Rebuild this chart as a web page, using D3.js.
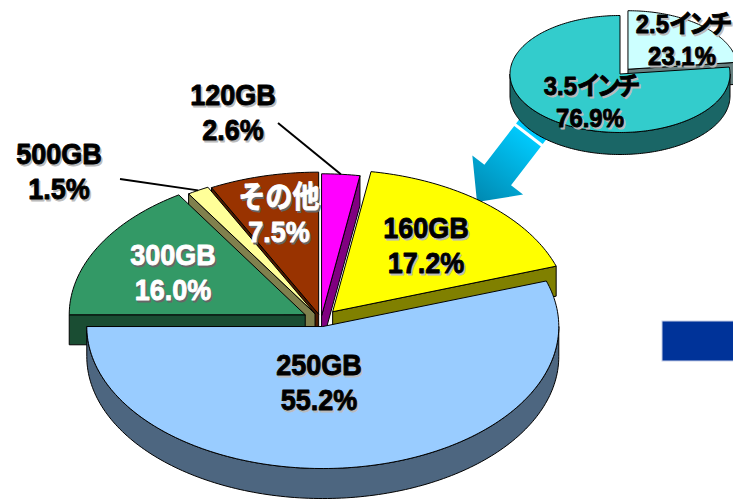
<!DOCTYPE html>
<html>
<head>
<meta charset="utf-8">
<script src="https://cdn.jsdelivr.net/npm/d3@7"></script>
<style>
  body { margin: 0; background: #fff; }
  svg { display: block; }
</style>
</head>
<body>
<div id="chart"></div>
<script>

// data
var capacities = ["120GB", "160GB", "250GB", "300GB", "500GB", "その他"];
var capacityShares = [2.6, 17.2, 55.2, 16.0, 1.5, 7.5];
var sizes = ["2.5インチ", "3.5インチ"];
var sizeShares = [23.1, 76.9];

// look
var capColors = ["#ff00ff", "#ffff00", "#99ccff", "#339966", "#ffff99", "#993300"];
var capTextColors = ["#000", "#000", "#000", "#fff", "#000", "#fff"];
var capExplode = [7, 18, 11, 18, 12, 10];
var capLabelAt = [[233, 105], [426, 238], [319, 375], [173, 265], [59, 164], [279, 207]];
var capLeaderFrom = [[278, 123], null, null, null, [120, 179], null];

var sizeColors = ["#ccffff", "#33cccc"];
var sizeExplode = [12, 0];
var sizeLabelAt = [[682, 33], [590, 95]];

var width = 733, height = 502;
var fontStack = "'Liberation Sans', Arial, 'Noto Sans CJK JP', sans-serif";

var svg = d3.select("#chart").append("svg")
  .attr("width", width)
  .attr("height", height);

function halfTone(c) {
  var r = d3.rgb(c);
  return d3.rgb(r.r / 2, r.g / 2, r.b / 2).toString();
}

var line = d3.line();

// draws an exploded 3d pie, back slices first
function pie3d(g, opts) {
  var arcs = d3.pie().sort(null).value(function(d) { return d; })(opts.values);
  var k = opts.ry / opts.rx;
  arcs.forEach(function(a, i) {
    a.mid = (a.startAngle + a.endAngle) / 2;
    a.ox = opts.cx + opts.explode[i] * Math.sin(a.mid);
    a.oy = opts.cy - opts.explode[i] * Math.cos(a.mid) * k;
  });

  function pt(a, ang, h) {
    return [a.ox + opts.rx * Math.sin(ang), a.oy - opts.ry * Math.cos(ang) + h];
  }
  function rim(a, a0, a1, h) {
    var n = Math.max(2, Math.ceil((a1 - a0) / 0.02));
    return d3.range(n + 1).map(function(j) { return pt(a, a0 + (a1 - a0) * j / n, h); });
  }

  var order = arcs.slice().sort(function(p, q) { return (-Math.cos(p.mid)) - (-Math.cos(q.mid)); });

  order.forEach(function(a) {
    var col = opts.colors[a.index];
    var side = halfTone(col);
    var sg = g.append("g");
    var d = opts.depth;

    // radial faces
    [[a.startAngle, Math.sin(a.startAngle) < -1e-6], [a.endAngle, Math.sin(a.endAngle) > 1e-6]]
      .forEach(function(f) {
        if (!f[1]) return;
        var p0 = [a.ox, a.oy], p1 = pt(a, f[0], 0);
        sg.append("path")
          .attr("d", line([p0, p1, [p1[0], p1[1] + d], [p0[0], p0[1] + d]]) + "Z")
          .attr("fill", side)
          .attr("stroke", "#000")
          .attr("stroke-width", 1)
          .attr("stroke-linejoin", "round");
      });

    // outer wall, front half only
    var b0 = Math.max(a.startAngle, Math.PI / 2);
    var b1 = Math.min(a.endAngle, 3 * Math.PI / 2);
    if (b1 > b0) {
      var wall = rim(a, b0, b1, 0).concat(rim(a, b0, b1, d).reverse());
      sg.append("path")
        .attr("d", line(wall) + "Z")
        .attr("fill", side)
        .attr("stroke", "#000")
        .attr("stroke-width", 1);
    }

    // top
    sg.append("path")
      .attr("d", line([[a.ox, a.oy]].concat(rim(a, a.startAngle, a.endAngle, 0))) + "Z")
      .attr("fill", col)
      .attr("stroke", "#000")
      .attr("stroke-width", 1)
      .attr("stroke-linejoin", "round");
  });

  arcs.pt = pt;
  return arcs;
}

// katakana in the original is set narrower than full width
function fillText(sel, t) {
  var parts = t.match(/[\u30a0-\u30ff]+|[^\u30a0-\u30ff]+/g);
  parts.forEach(function(p) {
    var ts = sel.append("tspan").text(p);
    if (/[\u30a0-\u30ff]/.test(p)) ts.attr("letter-spacing", -4.5);
  });
}

// tall, slightly condensed bold text with a soft drop shadow
function label(x, y, lines, size, sx, gap, color) {
  var shadow = color === "#fff" ? "#666" : "#bbb";
  lines.forEach(function(t, j) {
    [[1.5, shadow], [0, color]].forEach(function(s) {
      var txt = svg.append("text")
        .attr("transform", "translate(" + (x + s[0]) + "," + (y + j * gap + s[0]) + ") scale(" + sx + ",1)")
        .attr("text-anchor", "middle")
        .attr("font-family", fontStack)
        .attr("font-weight", "bold")
        .attr("font-size", size)
        .attr("fill", s[1])
        .attr("stroke", s[1])
        .attr("stroke-width", 0.9)
        .attr("stroke-linejoin", "round");
      fillText(txt, t);
    });
  });
}

// blue block on the right
svg.append("rect")
  .attr("x", 662).attr("y", 321)
  .attr("width", 80).attr("height", 40)
  .attr("fill", "#003399")
  .attr("stroke", "#c8d0e8")
  .attr("stroke-width", 1);

// arrow from the small pie to the 160GB slice
var arrowTip = [477, 202], arrowTail = [530, 133];
var ux = arrowTail[0] - arrowTip[0], uy = arrowTail[1] - arrowTip[1];
var ul = Math.sqrt(ux * ux + uy * uy);
ux /= ul; uy /= ul;
var nx = -uy, ny = ux;
function ap(s, w) { return [arrowTip[0] + s * ux + w * nx, arrowTip[1] + s * uy + w * ny]; }

var defs = svg.append("defs");
var grad = defs.append("linearGradient")
  .attr("id", "arrowGrad")
  .attr("gradientUnits", "userSpaceOnUse")
  .attr("x1", arrowTail[0]).attr("y1", arrowTail[1])
  .attr("x2", arrowTip[0]).attr("y2", arrowTip[1]);
grad.append("stop").attr("offset", "0%").attr("stop-color", "#00ccff");
grad.append("stop").attr("offset", "100%").attr("stop-color", "#0088b0");

svg.append("path")
  .attr("d", line([ap(0, 0), ap(34, -32), ap(34, -16.8), ap(83, -16.8),
                   ap(83, 16.8), ap(34, 16.8), ap(34, 32)]) + "Z")
  .attr("fill", "url(#arrowGrad)");
svg.append("path")
  .attr("d", line([ap(86, -16.8), ap(110, -16.8), ap(110, 16.8), ap(86, 16.8)]) + "Z")
  .attr("fill", "url(#arrowGrad)");

// small pie: drive size
var smallG = svg.append("g");
pie3d(smallG, {
  values: sizeShares, colors: sizeColors, explode: sizeExplode,
  cx: 620, cy: 74, rx: 110, ry: 58.5, depth: 22
});

// main pie: capacity
var mainG = svg.append("g");
var mainArcs = pie3d(mainG, {
  values: capacityShares, colors: capColors, explode: capExplode,
  cx: 321, cy: 320, rx: 236, ry: 142, depth: 30
});

// leader lines
mainArcs.forEach(function(a, i) {
  if (!capLeaderFrom[i]) return;
  var end = mainArcs.pt(a, a.mid, 0);
  svg.append("line")
    .attr("x1", capLeaderFrom[i][0]).attr("y1", capLeaderFrom[i][1])
    .attr("x2", end[0]).attr("y2", end[1])
    .attr("stroke", "#000")
    .attr("stroke-width", 2);
});

capacities.forEach(function(c, i) {
  label(capLabelAt[i][0], capLabelAt[i][1],
        [c, capacityShares[i].toFixed(1) + "%"], 30, 0.9, 35, capTextColors[i]);
});

sizes.forEach(function(s, i) {
  label(sizeLabelAt[i][0], sizeLabelAt[i][1],
        [s, sizeShares[i].toFixed(1) + "%"], 26, 0.92, 32, "#000");
});

</script>
</body>
</html>
